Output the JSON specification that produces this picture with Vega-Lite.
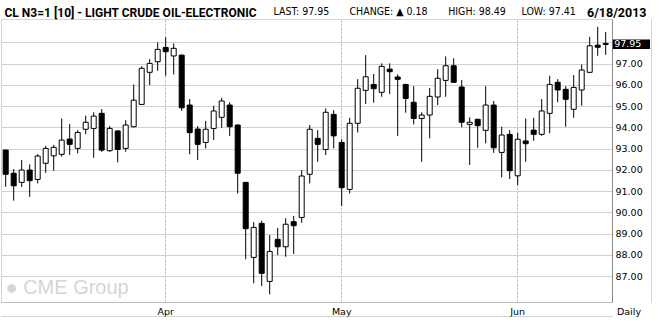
{
  "$schema": "https://vega.github.io/schema/vega-lite/v6.json",
  "width": 611,
  "height": 283,
  "autosize": "none",
  "padding": {"left": 1, "top": 19, "right": 47, "bottom": 22},
  "background": "white",
  "config": {
    "view": {"stroke": "#a8a8a8", "strokeDash": [1, 1]},
    "axis": {
      "labelFont": "DejaVu Sans",
      "labelFontSize": 9.5,
      "labelColor": "#000000",
      "titleFont": "DejaVu Sans Condensed, DejaVu Sans",
      "titleFontSize": 10.5,
      "titleFontWeight": "normal",
      "titleColor": "#000000",
      "titleAngle": 0,
      "titleAlign": "left",
      "titleBaseline": "alphabetic"
    }
  },
  "data": {
    "values": [
      {"date": "2013-03-01", "open": 92.93, "high": 92.95, "low": 91.20, "close": 91.79},
      {"date": "2013-03-04", "open": 91.84, "high": 92.04, "low": 90.55, "close": 91.25},
      {"date": "2013-03-05", "open": 91.41, "high": 92.46, "low": 91.20, "close": 91.99},
      {"date": "2013-03-06", "open": 91.99, "high": 92.26, "low": 90.73, "close": 91.49},
      {"date": "2013-03-07", "open": 91.55, "high": 92.74, "low": 91.36, "close": 92.65},
      {"date": "2013-03-08", "open": 92.31, "high": 93.13, "low": 91.86, "close": 93.01},
      {"date": "2013-03-11", "open": 92.66, "high": 93.17, "low": 91.96, "close": 93.06},
      {"date": "2013-03-12", "open": 92.73, "high": 94.42, "low": 92.62, "close": 93.40},
      {"date": "2013-03-13", "open": 93.45, "high": 94.16, "low": 92.70, "close": 93.20},
      {"date": "2013-03-14", "open": 93.01, "high": 93.87, "low": 92.78, "close": 93.76},
      {"date": "2013-03-15", "open": 93.91, "high": 94.55, "low": 93.68, "close": 94.24},
      {"date": "2013-03-18", "open": 93.95, "high": 94.71, "low": 92.57, "close": 94.53},
      {"date": "2013-03-19", "open": 94.66, "high": 94.86, "low": 92.85, "close": 92.93},
      {"date": "2013-03-20", "open": 92.90, "high": 94.06, "low": 92.85, "close": 93.95},
      {"date": "2013-03-21", "open": 93.83, "high": 93.87, "low": 92.35, "close": 92.96},
      {"date": "2013-03-22", "open": 93.01, "high": 94.34, "low": 92.85, "close": 94.11},
      {"date": "2013-03-25", "open": 94.03, "high": 96.02, "low": 94.00, "close": 95.28},
      {"date": "2013-03-26", "open": 95.08, "high": 96.88, "low": 95.05, "close": 96.78},
      {"date": "2013-03-27", "open": 96.59, "high": 97.21, "low": 95.99, "close": 97.01},
      {"date": "2013-03-28", "open": 97.09, "high": 98.00, "low": 96.66, "close": 97.67},
      {"date": "2013-04-01", "open": 97.76, "high": 98.24, "low": 96.43, "close": 97.56},
      {"date": "2013-04-02", "open": 97.36, "high": 97.95, "low": 96.49, "close": 97.72},
      {"date": "2013-04-03", "open": 97.40, "high": 97.42, "low": 94.78, "close": 94.92},
      {"date": "2013-04-04", "open": 95.05, "high": 95.33, "low": 92.73, "close": 93.75},
      {"date": "2013-04-05", "open": 93.92, "high": 94.06, "low": 92.46, "close": 93.20},
      {"date": "2013-04-08", "open": 93.29, "high": 94.30, "low": 93.01, "close": 93.91},
      {"date": "2013-04-09", "open": 93.95, "high": 95.02, "low": 93.40, "close": 94.77},
      {"date": "2013-04-10", "open": 94.47, "high": 95.39, "low": 93.98, "close": 95.24},
      {"date": "2013-04-11", "open": 95.05, "high": 95.18, "low": 93.60, "close": 94.03},
      {"date": "2013-04-12", "open": 94.11, "high": 94.13, "low": 90.89, "close": 91.84},
      {"date": "2013-04-15", "open": 91.41, "high": 91.43, "low": 87.79, "close": 89.23},
      {"date": "2013-04-16", "open": 87.88, "high": 89.54, "low": 86.66, "close": 89.29},
      {"date": "2013-04-17", "open": 89.48, "high": 89.60, "low": 86.53, "close": 87.13},
      {"date": "2013-04-18", "open": 86.75, "high": 88.93, "low": 86.14, "close": 88.16},
      {"date": "2013-04-19", "open": 88.73, "high": 89.26, "low": 87.99, "close": 88.38},
      {"date": "2013-04-22", "open": 88.38, "high": 89.72, "low": 87.91, "close": 89.44},
      {"date": "2013-04-23", "open": 89.56, "high": 89.83, "low": 88.04, "close": 89.37},
      {"date": "2013-04-24", "open": 89.76, "high": 91.99, "low": 89.51, "close": 91.71},
      {"date": "2013-04-25", "open": 91.79, "high": 94.11, "low": 91.36, "close": 93.91},
      {"date": "2013-04-26", "open": 93.48, "high": 93.87, "low": 92.38, "close": 93.20},
      {"date": "2013-04-29", "open": 92.96, "high": 94.89, "low": 92.70, "close": 94.71},
      {"date": "2013-04-30", "open": 94.61, "high": 94.81, "low": 93.01, "close": 93.60},
      {"date": "2013-05-01", "open": 93.29, "high": 93.44, "low": 90.30, "close": 91.16},
      {"date": "2013-05-02", "open": 91.08, "high": 94.45, "low": 90.89, "close": 94.19},
      {"date": "2013-05-03", "open": 94.19, "high": 96.27, "low": 93.76, "close": 95.84},
      {"date": "2013-05-06", "open": 95.74, "high": 97.40, "low": 95.10, "close": 96.38},
      {"date": "2013-05-07", "open": 96.02, "high": 96.51, "low": 95.16, "close": 95.82},
      {"date": "2013-05-08", "open": 95.65, "high": 97.01, "low": 95.44, "close": 96.87},
      {"date": "2013-05-09", "open": 96.74, "high": 97.01, "low": 95.57, "close": 96.62},
      {"date": "2013-05-10", "open": 96.37, "high": 96.49, "low": 93.60, "close": 96.26},
      {"date": "2013-05-13", "open": 96.02, "high": 96.05, "low": 94.69, "close": 95.36},
      {"date": "2013-05-14", "open": 95.18, "high": 95.94, "low": 94.14, "close": 94.42},
      {"date": "2013-05-15", "open": 94.42, "high": 94.71, "low": 92.38, "close": 94.58},
      {"date": "2013-05-16", "open": 94.58, "high": 95.86, "low": 93.48, "close": 95.46},
      {"date": "2013-05-17", "open": 95.43, "high": 96.74, "low": 95.05, "close": 96.31},
      {"date": "2013-05-20", "open": 96.21, "high": 97.34, "low": 95.44, "close": 96.90},
      {"date": "2013-05-21", "open": 96.90, "high": 97.25, "low": 96.10, "close": 96.12},
      {"date": "2013-05-22", "open": 95.90, "high": 96.23, "low": 94.00, "close": 94.24},
      {"date": "2013-05-23", "open": 94.14, "high": 94.47, "low": 92.23, "close": 94.24},
      {"date": "2013-05-24", "open": 94.38, "high": 94.40, "low": 93.04, "close": 94.08},
      {"date": "2013-05-28", "open": 93.86, "high": 95.94, "low": 93.25, "close": 95.05},
      {"date": "2013-05-29", "open": 95.05, "high": 95.24, "low": 92.80, "close": 93.04},
      {"date": "2013-05-30", "open": 92.82, "high": 94.03, "low": 91.65, "close": 93.64},
      {"date": "2013-05-31", "open": 93.67, "high": 93.87, "low": 91.57, "close": 91.96},
      {"date": "2013-06-03", "open": 91.72, "high": 93.75, "low": 91.28, "close": 93.44},
      {"date": "2013-06-04", "open": 93.36, "high": 94.42, "low": 92.38, "close": 93.23},
      {"date": "2013-06-05", "open": 93.87, "high": 94.45, "low": 93.37, "close": 93.67},
      {"date": "2013-06-06", "open": 93.67, "high": 95.33, "low": 93.60, "close": 94.77},
      {"date": "2013-06-07", "open": 94.66, "high": 96.43, "low": 93.72, "close": 96.02},
      {"date": "2013-06-10", "open": 96.12, "high": 96.27, "low": 95.18, "close": 95.76},
      {"date": "2013-06-11", "open": 95.79, "high": 95.94, "low": 94.03, "close": 95.32},
      {"date": "2013-06-12", "open": 94.85, "high": 96.46, "low": 94.45, "close": 95.88},
      {"date": "2013-06-13", "open": 95.76, "high": 96.96, "low": 95.02, "close": 96.70},
      {"date": "2013-06-14", "open": 96.59, "high": 98.26, "low": 96.55, "close": 97.84},
      {"date": "2013-06-17", "open": 97.87, "high": 98.73, "low": 97.37, "close": 97.77},
      {"date": "2013-06-18", "open": 97.90, "high": 98.49, "low": 97.41, "close": 97.95}
    ]
  },
  "layer": [
    {
      "mark": {"type": "rule", "color": "#000000", "strokeWidth": 1},
      "encoding": {
        "x": {
          "field": "date",
          "type": "ordinal",
          "scale": {"type": "band", "paddingInner": 0, "paddingOuter": 0.1875, "align": 0.2333},
          "axis": {
            "orient": "bottom",
            "values": ["2013-04-01", "2013-05-01", "2013-06-03"],
            "labelExpr": "datum.value == '2013-04-01' ? 'Apr' : datum.value == '2013-05-01' ? 'May' : 'Jun'",
            "labelAngle": 0,
            "labelAlign": "center",
            "labelBaseline": "top",
            "labelPadding": 4,
            "ticks": false,
            "tickSize": 0,
            "bandPosition": 0.5,
            "grid": true,
            "gridColor": "#c6c2c6",
            "gridDash": [3, 1],
            "gridWidth": 1,
            "domain": true,
            "domainColor": "#a8a8a8",
            "domainDash": [1, 1],
            "title": "Daily",
            "titleFont": "DejaVu Sans",
            "titleFontSize": 9.5,
            "titleX": 627.5,
            "titleY": 12,
            "titleAlign": "center"
          }
        },
        "y": {
          "field": "low",
          "type": "quantitative",
          "scale": {"domain": [85.78, 99.1], "nice": false, "zero": false},
          "axis": {
            "orient": "right",
            "values": [87, 88, 89, 90, 91, 92, 93, 94, 95, 96, 97, 98],
            "format": ".2f",
            "labelExpr": "datum.value == 98 ? '' : datum.label",
            "labelPadding": 3,
            "labelBaseline": "middle",
            "ticks": false,
            "tickSize": 0,
            "grid": true,
            "gridColor": "#cdd3cd",
            "gridWidth": 1,
            "domain": true,
            "domainColor": "#8a8a8a",
            "title": "6/18/2013",
            "titleFont": "Roboto",
            "titleFontSize": 12.5,
            "titleFontWeight": "bold",
            "titleAlign": "right",
            "titleX": 34,
            "titleY": -2.5
          }
        },
        "y2": {"field": "high"}
      }
    },
    {
      "mark": {"type": "bar", "width": 5, "stroke": "#000000", "strokeWidth": 1},
      "encoding": {
        "x": {
          "field": "date",
          "type": "ordinal",
          "axis": {
            "orient": "bottom",
            "offset": 14,
            "domain": true,
            "domainColor": "#a8a8a8",
            "domainDash": [1, 1],
            "labels": false,
            "ticks": false,
            "grid": false,
            "title": "CL N3=1 [10] - LIGHT CRUDE OIL-ELECTRONIC",
            "titleFont": "Roboto",
            "titleFontSize": 12,
            "titleFontWeight": "bold",
            "titleX": 3,
            "titleY": -300
          }
        },
        "y": {
          "field": "open",
          "type": "quantitative",
          "axis": {
            "orient": "right",
            "offset": 39,
            "domain": true,
            "domainColor": "#a8a8a8",
            "domainDash": [1, 1],
            "labels": false,
            "ticks": false,
            "grid": false,
            "title": "LAST: 97.95",
            "titleX": -378,
            "titleY": -4.3
          }
        },
        "y2": {"field": "close"},
        "fill": {"condition": {"test": "datum.close < datum.open", "value": "#000000"}, "value": "#ffffff"}
      }
    },
    {
      "transform": [{"filter": "datum.date == '2013-06-18'"}],
      "mark": {"type": "point", "shape": "M-1,-0.26H1V0.26H-1Z", "filled": true, "color": "#000000", "opacity": 1, "size": 1391, "strokeWidth": 0, "xOffset": 25.7, "yOffset": 0.8},
      "encoding": {
        "x": {
          "field": "date",
          "type": "ordinal",
          "axis": {
            "orient": "top",
            "domain": false,
            "labels": false,
            "ticks": false,
            "grid": false,
            "title": "CHANGE: ▲ 0.18",
            "titleX": 348,
            "titleY": -4.3
          }
        },
        "y": {
          "field": "close",
          "type": "quantitative",
          "axis": {
            "orient": "left",
            "domain": false,
            "labels": false,
            "ticks": false,
            "grid": false,
            "title": "HIGH: 98.49",
            "titleX": 446.7,
            "titleY": -4.3
          }
        }
      }
    },
    {
      "transform": [{"filter": "datum.date == '2013-06-18'"}],
      "mark": {"type": "text", "align": "left", "baseline": "middle", "dx": 8.5, "dy": 1, "color": "#ffffff", "font": "DejaVu Sans", "fontSize": 9.5},
      "encoding": {
        "x": {
          "field": "date",
          "type": "ordinal",
          "axis": {
            "orient": "top",
            "domain": false,
            "labels": false,
            "ticks": false,
            "grid": false,
            "title": "LOW: 97.41",
            "titleX": 520,
            "titleY": -4.3
          }
        },
        "y": {
          "field": "close",
          "type": "quantitative",
          "axis": {
            "orient": "left",
            "domain": false,
            "labels": false,
            "ticks": false,
            "grid": false,
            "title": "● CME Group",
            "titleFont": "Liberation Sans, Arial, sans-serif",
            "titleFontSize": 20,
            "titleColor": "#d2d6db",
            "titleX": 4,
            "titleY": 274.5
          }
        },
        "text": {"field": "close", "type": "quantitative", "format": ".2f"}
      }
    }
  ],
  "resolve": {"axis": {"x": "independent", "y": "independent"}}
}
